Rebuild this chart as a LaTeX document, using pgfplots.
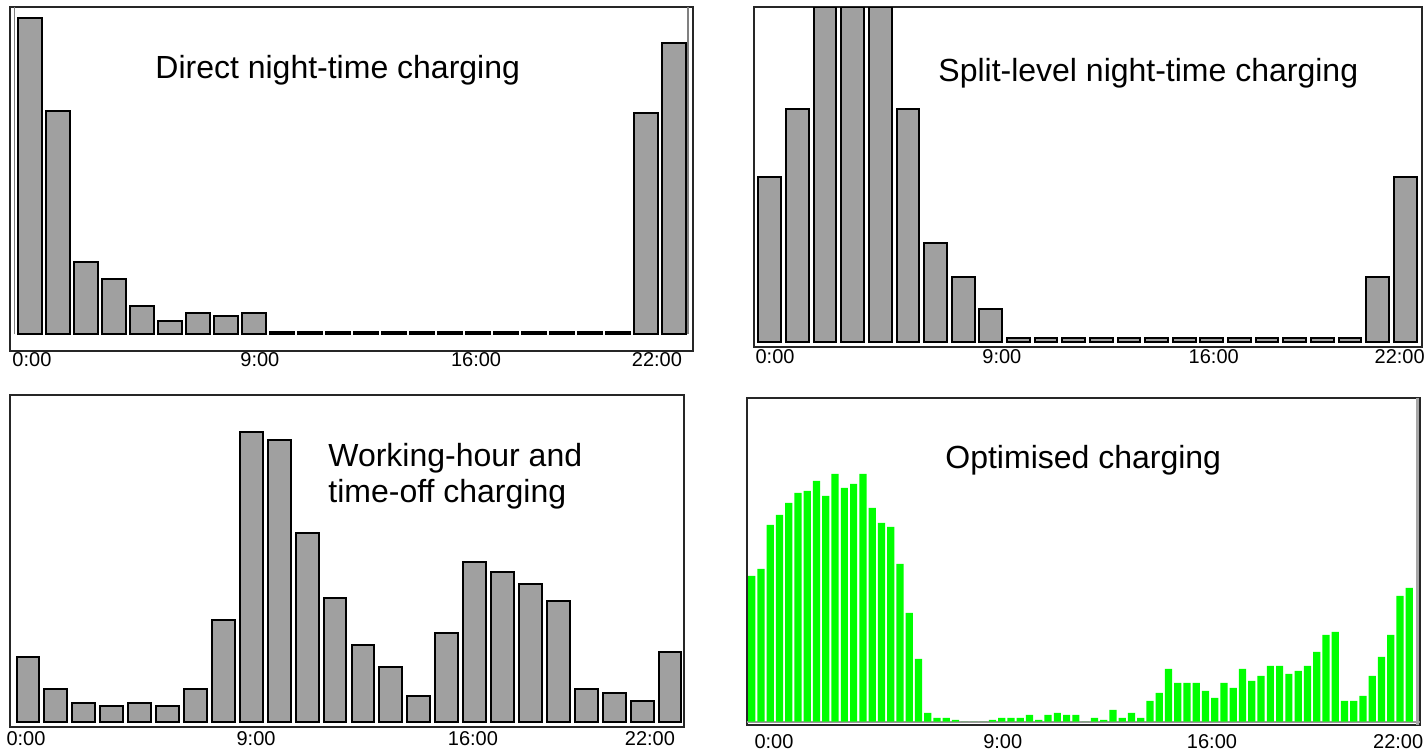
\documentclass[border=0pt]{standalone}
\usepackage{pgfplots}
\pgfplotsset{compat=1.18}
\usepackage{fontspec}
\setmainfont{Liberation Sans}
\definecolor{bargray}{RGB}{160,160,160}
\definecolor{optgreen}{RGB}{0,255,0}
\pgfplotsset{
  panel/.style={
    scale only axis, anchor=south west,
    axis line style={black!85, line width=0.9bp},
    ytick=\empty, major tick length=0pt,
    xticklabels={0:00,9:00,16:00,22:00},
    xticklabel style={font=\fontsize{10bp}{12bp}\selectfont, anchor=north, inner sep=0pt},
  },
  greybars/.style={ybar, bar width=0.83, bar shift=0pt, fill=bargray, draw=black, line width=1bp},
}
\newcommand{\ttl}{\fontsize{16bp}{19bp}\selectfont}

\begin{document}
\begin{tikzpicture}
\path[use as bounding box] (0,0) rectangle (713.5bp,377.5bp);

% direct night-time charging
\begin{axis}[panel, at={(5bp,202bp)}, width=341.5bp, height=172bp,
  xmin=-0.714, xmax=23.679, ymin=-16.7, ymax=327.3,
  xtick={0.07,8.21,15.93,22.39}, xticklabel style={yshift=-0.8bp}]
\addplot[greybars] coordinates {
  (0,316) (1,223) (2,72) (3,55) (4,28) (5,13) (6,21) (7,18) (8,21)
  (9,2.5) (10,2.5) (11,2.5) (12,2.5) (13,2.5) (14,2.5) (15,2.5) (16,2.5)
  (17,2.5) (18,2.5) (19,2.5) (20,2.5) (21,2.5) (22,221) (23,291)};
\draw[gray, line width=0.6bp] (axis cs:-0.54,0) -- (axis cs:-0.54,327.3);
\draw[gray, line width=0.6bp] (axis cs:23.5,0) -- (axis cs:23.5,327.3);
\end{axis}

% split-level night-time charging
\begin{axis}[panel, at={(377bp,204.15bp)}, width=334bp, height=169.7bp,
  xmin=-0.572, xmax=23.609, ymin=-5, ymax=334.4,
  xtick={0.19,8.4,16.07,22.8}, xticklabel style={yshift=-1.3bp}]
\addplot[greybars, bar width=0.82] coordinates {
  (0,165) (1,233) (2,334.4) (3,334.4) (4,334.4) (5,233) (6,99) (7,65) (8,33)
  (9,4) (10,4) (11,4) (12,4) (13,4) (14,4) (15,4) (16,4) (17,4) (18,4)
  (19,4) (20,4) (21,4) (22,65) (23,165)};
\end{axis}

% working-hour and time-off charging
\begin{axis}[panel, at={(5bp,14.15bp)}, width=337bp, height=165.85bp,
  xmin=-0.643, xmax=23.5, ymin=-4.4, ymax=327.3,
  xtick={-0.07,8.17,15.94,22.28}, xticklabel style={yshift=-2.1bp}]
\addplot[greybars, bar width=0.82] coordinates {
  (0,65.5) (1,33.5) (2,19) (3,16.5) (4,19) (5,16.5) (6,33.5) (7,102)
  (8,290) (9,282.5) (10,189.5) (11,124) (12,77.5) (13,55.5) (14,26.5)
  (15,89.5) (16,160.5) (17,150.5) (18,138.5) (19,121.5) (20,33.5)
  (21,29) (22,21.5) (23,70)};
\end{axis}

% optimised charging
\begin{axis}[panel, at={(373.5bp,15bp)}, width=336.5bp, height=163.5bp,
  xmin=-0.513, xmax=72.16, ymin=-3.3, ymax=323.7,
  xtick={2.4,27.1,49.7,69.8}, xticklabel style={yshift=-4.7bp}]
\draw[gray!80, line width=1bp] (axis cs:-0.513,0) -- (axis cs:72.16,0);
\addplot[ybar, bar width=0.78, bar shift=0pt, fill=optgreen, draw=none] coordinates {
  (0,145.7) (1,152.7) (2,196.7) (3,206.7) (4,218.7) (5,228.7) (6,230.7)
  (7,240.7) (8,225.7) (9,247.7) (10,233.7) (11,237.7) (12,247.7) (13,213.7)
  (14,198.7) (15,194.7) (16,157.7) (17,108.7) (18,62.7) (19,8.7) (20,3.7)
  (21,3.7) (22,1.7) (23,0) (24,0) (25,0) (26,1.7) (27,3.7) (28,3.7)
  (29,3.7) (30,6.7) (31,1.7) (32,6.7) (33,8.7) (34,6.7) (35,6.7) (36,0)
  (37,3.7) (38,1.7) (39,11.7) (40,3.7) (41,8.7) (42,3.7) (43,20.7)
  (44,28.7) (45,52.7) (46,38.7) (47,38.7) (48,38.7) (49,30.7) (50,23.7)
  (51,38.7) (52,33.7) (53,52.7) (54,40.7) (55,45.7) (56,55.7) (57,55.7)
  (58,47.7) (59,50.7) (60,55.7) (61,69.7) (62,86.7) (63,89.7) (64,20.7)
  (65,20.7) (66,25.7) (67,45.7) (68,64.7) (69,86.7) (70,125.7) (71,133.7)};
\draw[gray!70, line width=1.5bp] (axis cs:71.84,-3.3) -- (axis cs:71.84,323.7);
\end{axis}

\node[anchor=base west, font=\ttl, inner sep=0pt] at (77.5bp,338bp) {Direct night-time charging};
\node[anchor=base west, font=\ttl, inner sep=0pt] at (469bp,336.5bp) {Split-level night-time charging};
\node[anchor=base west, font=\ttl, inner sep=0pt] at (164bp,144bp) {Working-hour and};
\node[anchor=base west, font=\ttl, inner sep=0pt] at (164bp,126bp) {time-off charging};
\node[anchor=base west, font=\ttl, inner sep=0pt] at (472.5bp,143bp) {Optimised charging};
\end{tikzpicture}
\end{document}
